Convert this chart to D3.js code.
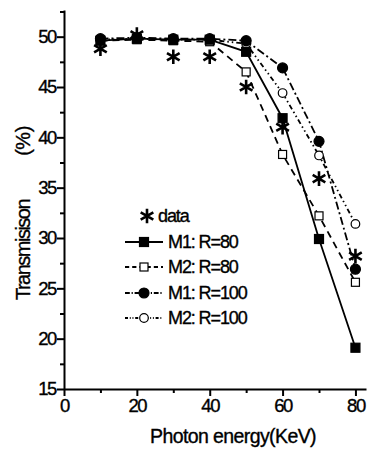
<!DOCTYPE html>
<html>
<head>
<meta charset="utf-8">
<script src="https://cdn.jsdelivr.net/npm/d3@7"></script>
<style>
  body { margin: 0; background: #fff; }
  svg text { font-family: "Liberation Sans", Arial, sans-serif; fill: #000; stroke: #000; stroke-width: 0.35px; }
</style>
</head>
<body>
<div id="chart"></div>
<script>
// Data
const energies = [10, 20, 30, 40, 50, 60, 70, 80]
const measured = [48.8, 50.2, 48.0, 48.0, 45.0, 41.0, 35.9, 28.2]
const m1R80 = [49.6, 49.8, 49.7, 49.7, 48.5, 41.9, 29.9, 19.1]
const m2R80 = [49.6, 49.7, 49.6, 49.5, 46.5, 38.3, 32.2, 25.6]
const m1R100 = [49.8, 49.9, 49.8, 49.8, 49.6, 46.9, 39.6, 26.9]
const m2R100 = [49.7, 49.8, 49.7, 49.7, 49.3, 44.4, 38.2, 31.4]

const xTicks = [0, 20, 40, 60, 80]
const xMinorTicks = [10, 30, 50, 70]
const yTicks = [15, 20, 25, 30, 35, 40, 45, 50]
const yMinorTicks = [17.5, 22.5, 27.5, 32.5, 37.5, 42.5, 47.5, 52.5]

const seriesNames = ['data', 'M1: R=80', 'M2: R=80', 'M1: R=100', 'M2: R=100']

const models = [
  { name: seriesNames[1], values: m1R80, dash: null, marker: 'square', filled: true },
  { name: seriesNames[2], values: m2R80, dash: '7,5', marker: 'square', filled: false },
  { name: seriesNames[3], values: m1R100, dash: '8,3,2,3', marker: 'circle', filled: true },
  { name: seriesNames[4], values: m2R100, dash: '5,3,1.5,3,1.5,3', marker: 'circle', filled: false }
]

// Dimensions
const dimensions = {
  width: 367,
  height: 450,
  left: 64,
  right: 366,
  top: 10,
  bottom: 389
}

const svg = d3.select('#chart')
  .append('svg')
  .attr('width', dimensions.width)
  .attr('height', dimensions.height)

// Scales
const xScale = d3.scaleLinear()
  .domain([0, 82.9])
  .range([dimensions.left, dimensions.right])

const yScale = d3.scaleLinear()
  .domain([15, 52.65])
  .range([dimensions.bottom, dimensions.top])

// Axes
const xAxisGroup = svg.append('g')
  .attr('transform', `translate(0, ${dimensions.bottom})`)
  .call(d3.axisBottom(xScale).tickValues(xTicks).tickSize(7).tickSizeOuter(0).tickPadding(3))

svg.append('g')
  .attr('transform', `translate(0, ${dimensions.bottom})`)
  .call(d3.axisBottom(xScale).tickValues(xMinorTicks).tickSize(4).tickSizeOuter(0).tickFormat(''))
  .call(g => g.select('.domain').remove())

const yAxisGroup = svg.append('g')
  .attr('transform', `translate(${dimensions.left}, 0)`)
  .call(d3.axisLeft(yScale).tickValues(yTicks).tickSize(7).tickSizeOuter(0).tickPadding(1))

svg.append('g')
  .attr('transform', `translate(${dimensions.left}, 0)`)
  .call(d3.axisLeft(yScale).tickValues(yMinorTicks).tickSize(4).tickSizeOuter(0).tickFormat(''))
  .call(g => g.select('.domain').remove())

svg.selectAll('.domain, .tick line')
  .attr('stroke', '#000')
  .attr('stroke-width', 2)

svg.selectAll('.tick text')
  .style('font-size', '18.5px')
  .style('letter-spacing', '-1.4px')

xAxisGroup.selectAll('.tick text').attr('dy', '0.72em')

// Axis titles
svg.append('text')
  .text('Photon energy(KeV)')
  .attr('x', 233)
  .attr('y', 443)
  .attr('text-anchor', 'middle')
  .style('font-size', '19.5px')
  .style('letter-spacing', '-0.6px')

svg.append('text')
  .text('Transmisison')
  .attr('transform', 'translate(30, 250) rotate(-90)')
  .attr('text-anchor', 'middle')
  .style('font-size', '20px')
  .style('letter-spacing', '-1.5px')

svg.append('text')
  .text('(%)')
  .attr('transform', 'translate(30, 141) rotate(-90)')
  .attr('text-anchor', 'middle')
  .style('font-size', '20px')
  .style('letter-spacing', '-0.5px')

// Marker helpers
const asterisk = d3.symbol().type(d3.symbolAsterisk).size(150)

function drawMarker(g, marker, filled, x, y) {
  if (marker === 'square') {
    const s = filled ? 9 : 8
    g.append('rect')
      .attr('x', x - s / 2)
      .attr('y', y - s / 2)
      .attr('width', s)
      .attr('height', s)
      .attr('fill', filled ? '#000' : '#fff')
      .attr('stroke', '#000')
      .attr('stroke-width', 1.2)
  } else {
    g.append('circle')
      .attr('cx', x)
      .attr('cy', y)
      .attr('r', filled ? 5 : 4.3)
      .attr('fill', filled ? '#000' : '#fff')
      .attr('stroke', '#000')
      .attr('stroke-width', 1.2)
  }
}

// Model lines and markers
const line = d3.line()
  .x((d, i) => xScale(energies[i]))
  .y(d => yScale(d))

const plot = svg.append('g')

models.forEach(m => {
  plot.append('path')
    .datum(m.values)
    .attr('d', line)
    .attr('fill', 'none')
    .attr('stroke', '#000')
    .attr('stroke-width', 1.8)
    .attr('stroke-dasharray', m.dash)
})

models.slice().reverse().forEach(m => {
  m.values.forEach((v, i) => drawMarker(plot, m.marker, m.filled, xScale(energies[i]), yScale(v)))
})

// Measured points
plot.selectAll('.star')
  .data(measured)
  .join('path')
  .attr('class', 'star')
  .attr('d', asterisk)
  .attr('transform', (d, i) => `translate(${xScale(energies[i])}, ${yScale(d)})`)
  .attr('fill', 'none')
  .attr('stroke', '#000')
  .attr('stroke-width', 2.6)

// Legend
const legendRows = [216, 242, 267, 293, 318]
const legend = svg.append('g')

legend.append('path')
  .attr('d', asterisk)
  .attr('transform', `translate(147, ${legendRows[0]})`)
  .attr('fill', 'none')
  .attr('stroke', '#000')
  .attr('stroke-width', 2.6)

legend.append('text')
  .text(seriesNames[0])
  .attr('x', 158)
  .attr('y', legendRows[0])
  .attr('dy', '0.35em')
  .style('font-size', '18px')
  .style('letter-spacing', '-1.1px')

models.forEach((m, i) => {
  const y = legendRows[i + 1]
  legend.append('line')
    .attr('x1', 125)
    .attr('x2', 163)
    .attr('y1', y)
    .attr('y2', y)
    .attr('stroke', '#000')
    .attr('stroke-width', 1.8)
    .attr('stroke-dasharray', m.dash ? m.dash.split(',').map(v => v * 0.6).join(',') : null)
  drawMarker(legend, m.marker, m.filled, 144, y)
  legend.append('text')
    .text(m.name)
    .attr('x', 168)
    .attr('y', y)
    .attr('dy', '0.35em')
    .style('font-size', '18px')
    .style('letter-spacing', '-1.1px')
})
</script>
</body>
</html>
